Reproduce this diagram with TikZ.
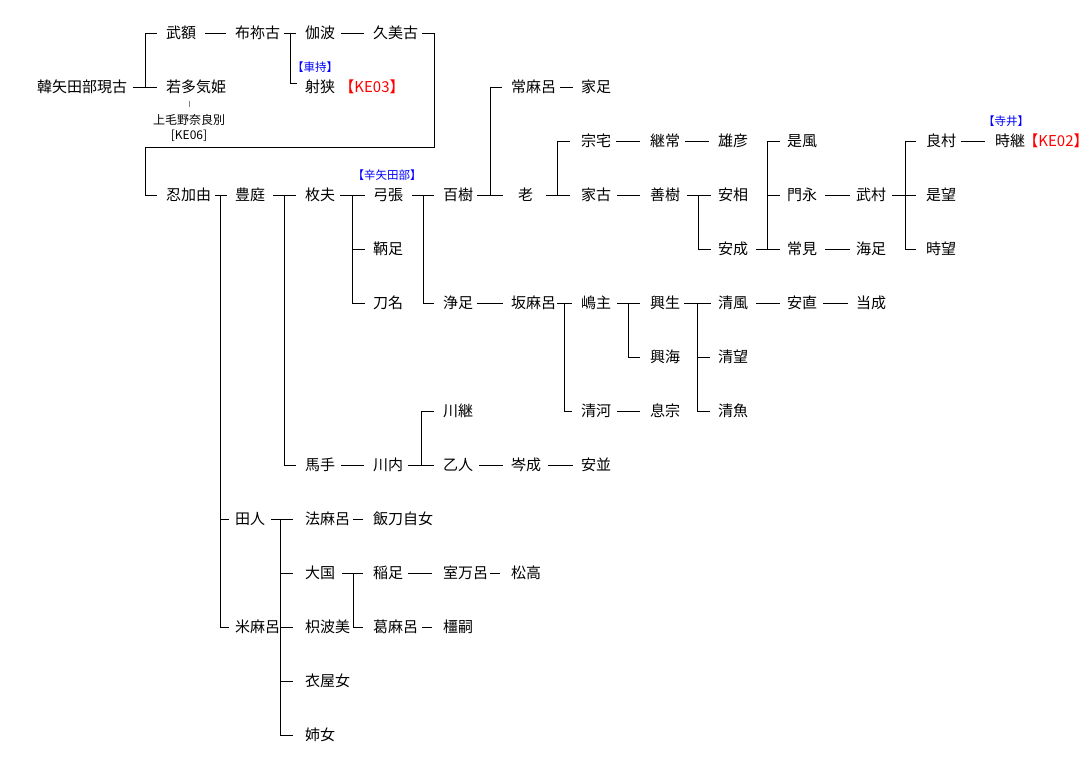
\documentclass[tikz,border=0pt]{standalone}
\usepackage{xcolor}
\usepackage{fontspec}
\usepackage{tikz}
\newfontfamily\jp{Noto Sans CJK JP}
\tikzset{
  person/.style={anchor=west, inner sep=0pt, text height=13pt, text depth=1.6pt, font=\jp\fontsize{15pt}{18pt}\selectfont},
  clan/.style={inner sep=0pt, text height=10pt, text depth=1.3pt, text=blue, font=\jp\fontsize{11.5pt}{13pt}\selectfont},
  kecode/.style={inner sep=0pt, text height=13pt, text depth=1.6pt, text=red, font=\jp\fontsize{15pt}{18pt}\selectfont},
  note/.style={inner sep=0pt, text height=10.4pt, text depth=1.3pt, font=\jp\fontsize{12pt}{14pt}\selectfont},
  link/.style={line width=1pt},
  tick/.style={line width=1pt, gray}
}

\begin{document}
\begin{tikzpicture}[x=1pt,y=-1pt]
    \useasboundingbox (0,0) rectangle (1088,769);
    % top generations
    \node[person] (karayata) at (37,87) {韓矢田部現古};
    \node[person] (mukaga) at (166,33) {武額};
    \node[person] (wakata) at (166,87) {若多気姫};
    \node[person] (funeko) at (235,33) {布祢古};
    \node[person] (kaha) at (305,33) {伽波};
    \node[person] (kumiko) at (373,33) {久美古};
    \node[person] (isa) at (305,87) {射狭};
    \node[clan] (kuruma) at (315,67) {【車持】};
    \node[kecode] (ke03) at (372,87) {【KE03】};
    \node[note] (kamitsu) at (189,120) {上毛野奈良別};
    \node[note] (ke06) at (189,135) {[KE06]};

    % main line
    \node[person] (oshika) at (166,195) {忍加由};
    \node[person] (toyoniwa) at (235,195) {豊庭};
    \node[person] (hirafu) at (305,195) {枚夫};
    \node[person] (yumihari) at (373,195) {弓張};
    \node[clan] (karayabe) at (387,175) {【辛矢田部】};
    \node[person] (momoki) at (443,195) {百樹};
    \node[person] (tsunemaro) at (511,87) {常麻呂};
    \node[person] (ietari) at (581,87) {家足};
    \node[person] (oi) at (518,195) {老};
    \node[person] (munei) at (581,141) {宗宅};
    \node[person] (tsugutsune) at (650,141) {継常};
    \node[person] (ohiko) at (718,141) {雄彦};
    \node[person] (ieko) at (581,195) {家古};
    \node[person] (yoshiki) at (650,195) {善樹};
    \node[person] (yasusuke) at (718,195) {安相};
    \node[person] (yasunari) at (718,249) {安成};
    \node[person] (korekaze) at (787,141) {是風};
    \node[person] (kadonaga) at (787,195) {門永};
    \node[person] (tsunemi) at (787,249) {常見};
    \node[person] (takemura) at (856,195) {武村};
    \node[person] (amitari) at (856,249) {海足};
    \node[person] (yoshimura) at (926,141) {良村};
    \node[person] (koremochi) at (926,195) {是望};
    \node[person] (tokimochi) at (926,249) {時望};
    \node[person] (tokitsugu) at (995,141) {時継};
    \node[clan] (terai) at (1006,121) {【寺井】};
    \node[kecode] (ke02) at (1056,141) {【KE02】};

    \node[person] (tomotari) at (373,249) {鞆足};
    \node[person] (tona) at (373,303) {刀名};
    \node[person] (kiyotari) at (443,303) {浄足};
    \node[person] (sakamaro) at (511,303) {坂麻呂};
    \node[person] (shimanushi) at (581,303) {嶋主};
    \node[person] (okinari) at (650,303) {興生};
    \node[person] (kiyokaze) at (718,303) {清風};
    \node[person] (yasunao) at (787,303) {安直};
    \node[person] (masanari) at (856,303) {当成};
    \node[person] (okiumi) at (650,357) {興海};
    \node[person] (kiyomochi) at (718,357) {清望};
    \node[person] (kiyokawa) at (581,411) {清河};
    \node[person] (okimune) at (650,411) {息宗};
    \node[person] (kiyona) at (718,411) {清魚};

    \node[person] (kawatsugu) at (443,411) {川継};
    \node[person] (umate) at (305,465) {馬手};
    \node[person] (kawachi) at (373,465) {川内};
    \node[person] (otohito) at (443,465) {乙人};
    \node[person] (minenari) at (511,465) {岑成};
    \node[person] (yasunami) at (581,465) {安並};

    % lower branches
    \node[person] (tahito) at (235,519) {田人};
    \node[person] (norimaro) at (305,519) {法麻呂};
    \node[person] (iitoji) at (373,519) {飯刀自女};
    \node[person] (okuni) at (305,573) {大国};
    \node[person] (inetari) at (373,573) {稲足};
    \node[person] (muromaro) at (443,573) {室万呂};
    \node[person] (matsutaka) at (511,573) {松高};
    \node[person] (yonemaro) at (235,627) {米麻呂};
    \node[person] (kihami) at (305,627) {枳波美};
    \node[person] (kuzumaro) at (373,627) {葛麻呂};
    \node[person] (kashitsugu) at (443,627) {橿嗣};
    \node[person] (kinuyame) at (305,681) {衣屋女};
    \node[person] (anejo) at (305,735) {姉女};

    % connectors
    \draw[link] ([xshift=6pt]karayata.east) -- ([xshift=-9pt]wakata.west);
    \draw[link] ([xshift=18pt]karayata.east) |- ([xshift=-9pt]mukaga.west);
    \draw[link] ([xshift=9pt]mukaga.east) -- ([xshift=-9pt]funeko.west);
    \draw[link] ([xshift=4pt]funeko.east) -- ([xshift=-9pt]kaha.west);
    \draw[link] ([xshift=10pt]funeko.east) |- ([xshift=-8pt,yshift=4pt]isa.west);
    \draw[link] ([xshift=6pt]kaha.east) -- ([xshift=-9pt]kumiko.west);
    \draw[tick] (kamitsu.north |- wakata.south) ++(0,6) -- ++(0,6);
    \coordinate (bend) at (434,147);
    \draw[link] ([xshift=4pt]kumiko.east) -| (bend) -| ([xshift=-21pt]oshika.west) -- ([xshift=-9pt]oshika.west);

    \draw[link] ([xshift=4pt]oshika.east) -- ([xshift=-8pt]toyoniwa.west);
    \draw[link] ([xshift=9pt]oshika.east) |- ([xshift=-6pt]tahito.west);
    \draw[link] ([xshift=9pt]oshika.east) |- ([xshift=-6pt]yonemaro.west);
    \draw[link] ([xshift=8pt]toyoniwa.east) -- ([xshift=-9pt]hirafu.west);
    \draw[link] ([xshift=19pt]toyoniwa.east) |- ([xshift=-9pt]umate.west);
    \draw[link] ([xshift=5pt]hirafu.east) -- ([xshift=-8pt]yumihari.west);
    \draw[link] ([xshift=17pt]hirafu.east) |- ([xshift=-8pt]tomotari.west);
    \draw[link] ([xshift=17pt]hirafu.east) |- ([xshift=-8pt]tona.west);
    \draw[link] ([xshift=9pt]yumihari.east) -- ([xshift=-9pt]momoki.west);
    \draw[link] ([xshift=20pt]yumihari.east) |- ([xshift=-9pt]kiyotari.west);
    \draw[link] ([xshift=4pt]momoki.east) -- ([xshift=-15pt]oi.west);
    \draw[link] ([xshift=17pt]momoki.east) |- ([xshift=-9pt]tsunemaro.west);
    \draw[link] ([xshift=4pt]tsunemaro.east) -- ([xshift=-8pt]ietari.west);
    \draw[link] ([xshift=13pt]oi.east) -- ([xshift=-11pt]ieko.west);
    \draw[link] ([xshift=24pt]oi.east) |- ([xshift=-11pt]munei.west);
    \draw[link] ([xshift=5pt]munei.east) -- ([xshift=-10pt]tsugutsune.west);
    \draw[link] ([xshift=5pt]tsugutsune.east) -- ([xshift=-9pt]ohiko.west);
    \draw[link] ([xshift=6pt]ieko.east) -- ([xshift=-10pt]yoshiki.west);
    \draw[link] ([xshift=7pt]yoshiki.east) -- ([xshift=-7pt]yasusuke.west);
    \draw[link] ([xshift=18pt]yoshiki.east) |- ([xshift=-7pt]yasunari.west);
    \draw[link] ([xshift=8pt]yasunari.east) -- ([xshift=-7pt]tsunemi.west);
    \draw[link] ([xshift=19pt]yasunari.east) |- ([xshift=-7pt]kadonaga.west);
    \draw[link] ([xshift=19pt]yasunari.east) |- ([xshift=-7pt]korekaze.west);
    \draw[link] ([xshift=8pt]kadonaga.east) -- ([xshift=-6pt]takemura.west);
    \draw[link] ([xshift=8pt]tsunemi.east) -- ([xshift=-6pt]amitari.west);
    \draw[link] ([xshift=6pt]takemura.east) -- ([xshift=-10pt]koremochi.west);
    \draw[link] ([xshift=19pt]takemura.east) |- ([xshift=-10pt]yoshimura.west);
    \draw[link] ([xshift=19pt]takemura.east) |- ([xshift=-10pt]tokimochi.west);
    \draw[link] ([xshift=5pt]yoshimura.east) -- ([xshift=-10pt]tokitsugu.west);

    \draw[link] ([xshift=4pt]kiyotari.east) -- ([xshift=-8pt]sakamaro.west);
    \draw[link] ([xshift=1pt]sakamaro.east) -- ([xshift=-9pt]shimanushi.west);
    \draw[link] ([xshift=8pt]sakamaro.east) |- ([xshift=-9pt]kiyokawa.west);
    \draw[link] ([xshift=6pt]shimanushi.east) -- ([xshift=-10pt]okinari.west);
    \draw[link] ([xshift=17pt]shimanushi.east) |- ([xshift=-10pt]okiumi.west);
    \draw[link] ([xshift=4pt]okinari.east) -- ([xshift=-7pt]kiyokaze.west);
    \draw[link] ([xshift=17pt]okinari.east) |- ([xshift=-8pt]kiyomochi.west);
    \draw[link] ([xshift=17pt]okinari.east) |- ([xshift=-8pt]kiyona.west);
    \draw[link] ([xshift=8pt]kiyokaze.east) -- ([xshift=-7pt]yasunao.west);
    \draw[link] ([xshift=6pt]yasunao.east) -- ([xshift=-8pt]masanari.west);
    \draw[link] ([xshift=6pt]kiyokawa.east) -- ([xshift=-10pt]okimune.west);

    \draw[link] ([xshift=6pt]umate.east) -- ([xshift=-9pt]kawachi.west);
    \draw[link] ([xshift=5pt]kawachi.east) -- ([xshift=-9pt]otohito.west);
    \draw[link] ([xshift=18pt]kawachi.east) |- ([xshift=-9pt]kawatsugu.west);
    \draw[link] ([xshift=6pt]otohito.east) -- ([xshift=-8pt]minenari.west);
    \draw[link] ([xshift=7pt]minenari.east) -- ([xshift=-8pt]yasunami.west);

    \draw[link] ([xshift=6pt]tahito.east) -- ([xshift=-12pt]norimaro.west);
    \draw[link] ([xshift=15pt]tahito.east) |- ([xshift=-12pt]okuni.west);
    \draw[link] ([xshift=15pt]tahito.east) |- ([xshift=-12pt]kihami.west);
    \draw[link] ([xshift=15pt]tahito.east) |- ([xshift=-12pt]kinuyame.west);
    \draw[link] ([xshift=15pt]tahito.east) |- ([xshift=-12pt]anejo.west);
    \draw[link] ([xshift=3pt]norimaro.east) -- ([xshift=-10pt]iitoji.west);
    \draw[link] ([xshift=7pt]okuni.east) -- ([xshift=-10pt]inetari.west);
    \draw[link] ([xshift=18pt]okuni.east) |- ([xshift=-10pt]kuzumaro.west);
    \draw[link] ([xshift=5pt]inetari.east) -- ([xshift=-11pt]muromaro.west);
    \draw[link] ([xshift=2pt]muromaro.east) -- ([xshift=-11pt]matsutaka.west);
    \draw[link] ([xshift=4pt]kuzumaro.east) -- ([xshift=-11pt]kashitsugu.west);
\end{tikzpicture}
\end{document}
